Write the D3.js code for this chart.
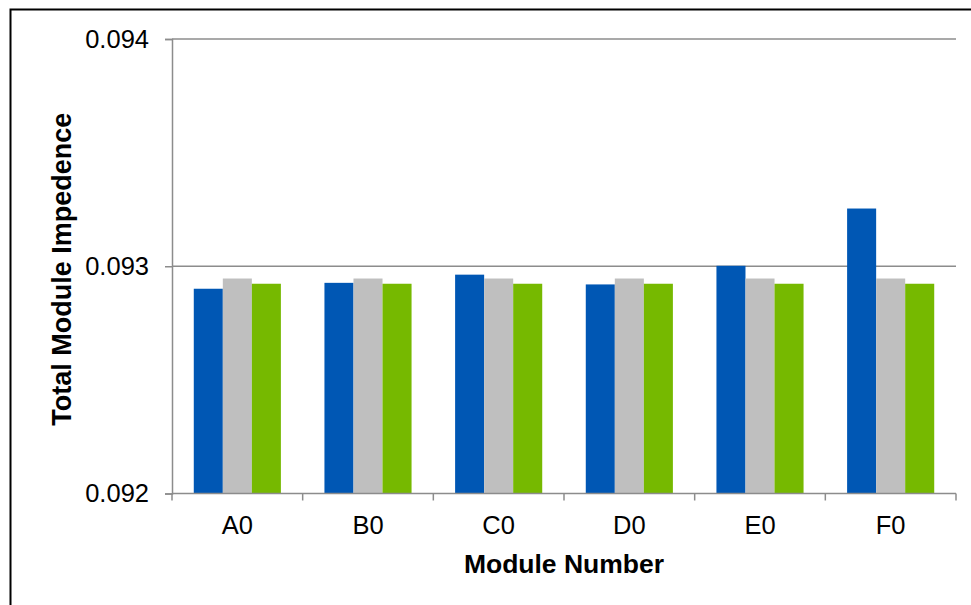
<!DOCTYPE html>
<html>
<head>
<meta charset="utf-8">
<script src="https://cdn.jsdelivr.net/npm/d3@7"></script>
<style>
  html, body { margin: 0; padding: 0; background: #fff; }
  svg { display: block; }
  text { font-family: "Liberation Sans", Arial, sans-serif; fill: #000; }
</style>
</head>
<body>
<svg id="chart" width="971" height="605"></svg>
<script>
const categories = ["A0", "B0", "C0", "D0", "E0", "F0"];
const seriesNames = ["Measured", "Reference", "Nominal"];
const seriesA = [0.092901, 0.092927, 0.092963, 0.092920, 0.093002, 0.093254];
const seriesB = [0.092946, 0.092946, 0.092946, 0.092946, 0.092946, 0.092946];
const seriesC = [0.092923, 0.092923, 0.092923, 0.092923, 0.092923, 0.092923];
const yTicks = [0.092, 0.093, 0.094];
const colors = ["#0057b4", "#bfbfbf", "#76b900"];
const xTitle = "Module Number";
const yTitle = "Total Module Impedence";

const svg = d3.select("#chart");
const W = 971, H = 605;
const m = { left: 172, right: W - 956, top: 39, bottom: H - 493.5 };

// outer frame (right/bottom edges fall outside the picture)
svg.append("rect").attr("x", 10.5).attr("y", 9.5).attr("width", 970).attr("height", 610)
  .attr("fill", "none").attr("stroke", "#000").attr("stroke-width", 2);

const x = d3.scaleBand().domain(categories).range([m.left, W - m.right]).padding(0);
const inner = d3.scaleBand().domain(seriesNames).range([0, x.bandwidth()])
  .paddingInner(0).paddingOuter(0.75);
const y = d3.scaleLinear().domain([0.092, 0.094]).range([H - m.bottom, m.top]);

// gridlines
svg.append("g").selectAll("line").data(yTicks.slice(1)).join("line")
  .attr("x1", m.left).attr("x2", W - m.right)
  .attr("y1", d => y(d)).attr("y2", d => y(d))
  .attr("stroke", "#8c8c8c").attr("stroke-width", 1.5);

// bars
const series = [seriesA, seriesB, seriesC];
const g = svg.append("g");
series.forEach((vals, si) => {
  g.selectAll(null).data(vals).join("rect")
    .attr("x", (d, i) => x(categories[i]) + inner(seriesNames[si]))
    .attr("width", inner.bandwidth())
    .attr("y", d => y(d))
    .attr("height", d => y(0.092) - y(d))
    .attr("fill", colors[si]);
});

// y axis
const yAxis = d3.axisLeft(y).tickValues(yTicks).tickFormat(d3.format(".3f")).tickSize(7).tickPadding(16);
const ya = svg.append("g").attr("transform", `translate(${m.left},0)`).call(yAxis);
ya.select(".domain").attr("stroke", "#8c8c8c").attr("stroke-width", 1.5);
ya.selectAll(".tick line").attr("stroke", "#8c8c8c").attr("stroke-width", 1.5);
ya.selectAll("text").attr("font-size", 25.5).attr("font-family", "Liberation Sans, Arial, sans-serif").attr("fill", "#000");

// x axis
const xAxis = d3.axisBottom(x).tickSize(0).tickPadding(22);
const xa = svg.append("g").attr("transform", `translate(0,${y(0.092)})`).call(xAxis);
xa.select(".domain").attr("stroke", "#8c8c8c").attr("stroke-width", 1.5)
  .attr("d", `M${m.left},0H${W - m.right}`);
xa.selectAll("text").attr("font-size", 25.5).attr("font-family", "Liberation Sans, Arial, sans-serif").attr("fill", "#000");
// category boundary ticks
const bounds = categories.map(c => x(c)).concat([W - m.right]);
xa.append("g").selectAll("line").data(bounds).join("line")
  .attr("x1", d => d).attr("x2", d => d).attr("y1", 0).attr("y2", 7)
  .attr("stroke", "#8c8c8c").attr("stroke-width", 1.5);

// titles
svg.append("text").attr("x", (m.left + W - m.right) / 2).attr("y", 573)
  .attr("text-anchor", "middle").attr("font-size", 26.5).attr("font-weight", "bold").text(xTitle);
svg.append("text").attr("transform", `translate(71,${(y(0.092) + y(0.094)) / 2 + 3}) rotate(-90)`)
  .attr("text-anchor", "middle").attr("font-size", 27).attr("font-weight", "bold").text(yTitle);
</script>
</body>
</html>
